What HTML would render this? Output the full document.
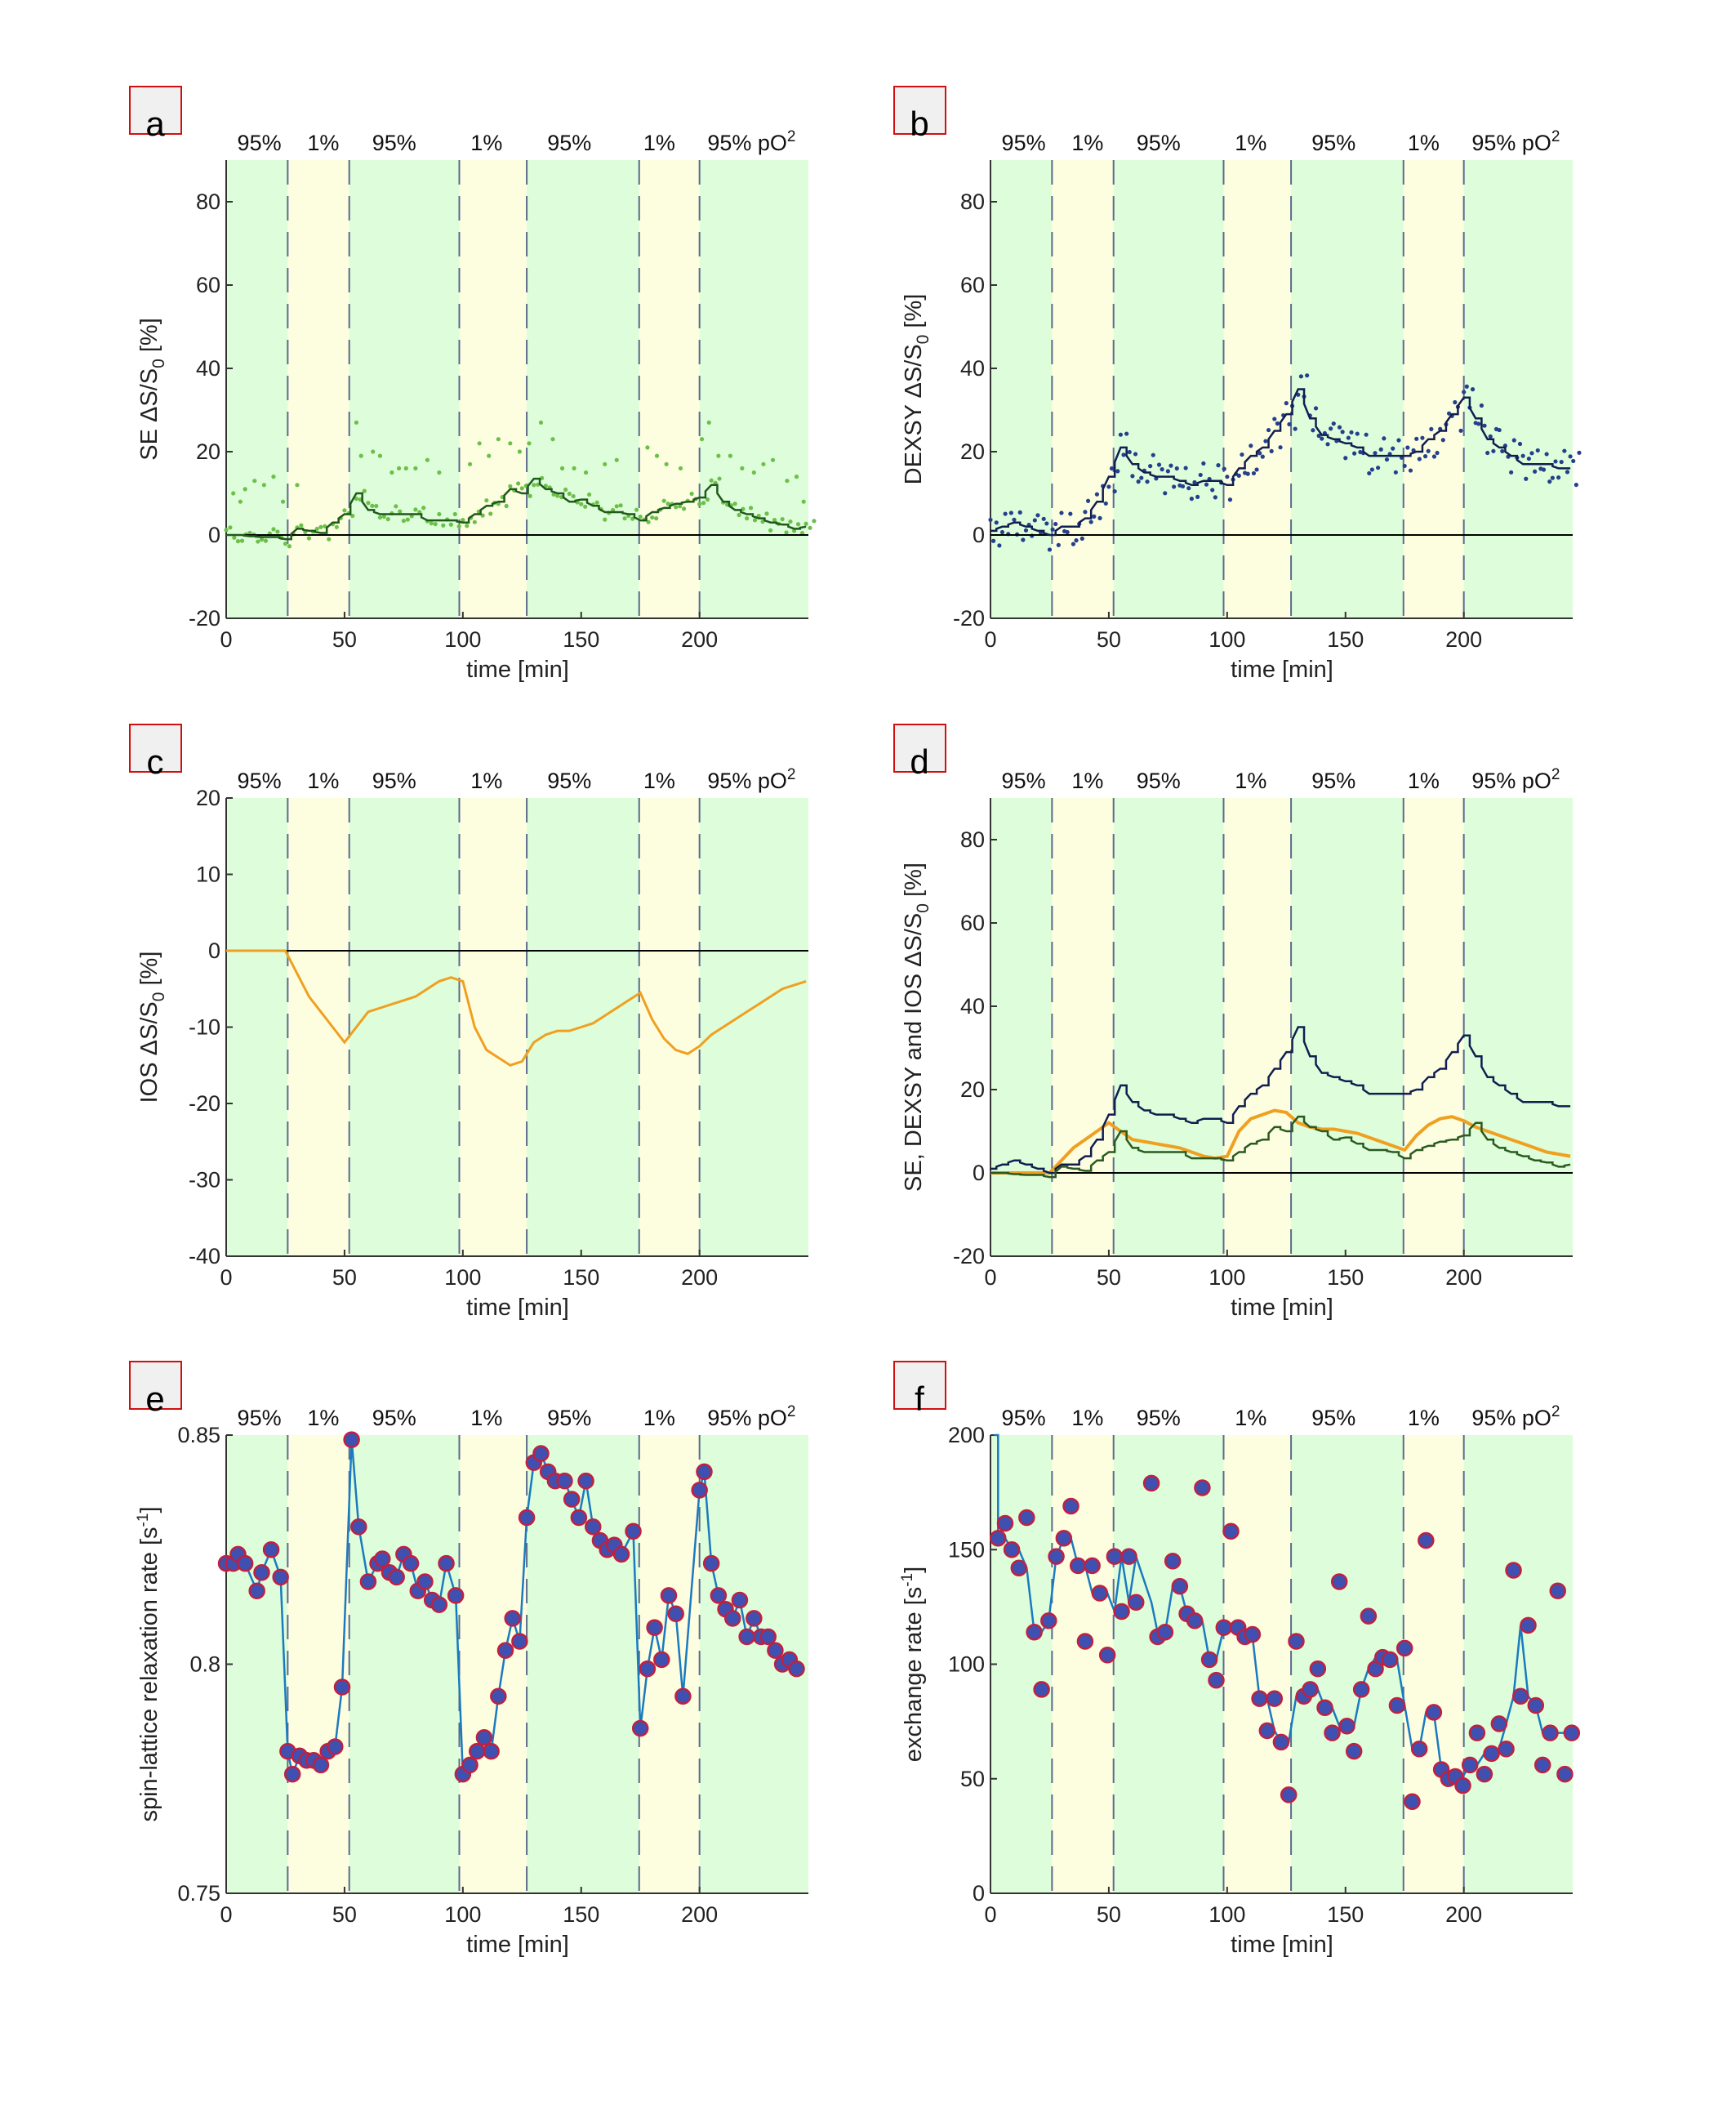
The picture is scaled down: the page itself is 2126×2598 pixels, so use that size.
<!DOCTYPE html>
<html><head><meta charset="utf-8"><style>
html,body{margin:0;padding:0;background:#fff}
svg{display:block;font-family:"Liberation Sans",Arial,sans-serif}
</style></head><body>
<svg id="fig" width="2126" height="2598" viewBox="0 0 2126 2598" xmlns="http://www.w3.org/2000/svg"></svg>
<script>
// ---- data ----
const phaseBounds = [26, 52, 98.5, 127, 174.5, 200];
const phaseLabels = ["95%", "1%", "95%", "1%", "95%", "1%", "95% pO"];
const phaseLabelT = [14, 41, 71, 110, 145, 183, 222];
const lineT = [0,5,10,15,20,25,30,35,40,45,50,55,60,65,70,75,80,85,90,95,100,105,110,115,120,125,130,135,140,145,150,155,160,165,170,175,180,185,190,195,200,205,210,215,220,225,230,235,240,245];
const seLine = [0,0,-0.3,-0.5,-0.5,-1,1.5,1,0.5,3,5,10,6,5,5,5,5,3.5,3.5,3.5,3,5,7,8,11,10,13.5,11,10,8,8.5,7,5.5,5.5,5,3.5,5.5,6.5,7.5,8,9,12,8,6,5,4,3,2.5,1.5,2];
const dexsyLine = [1,2,3,2,1,0,2,2,4,8,14,21,17,15,14,14,13,12,13,13,12,16,19,21,25,29,35,28,24,23,22,21,19,19,19,19,20,23,25,29,33,28,23,21,19,17,17,17,16,16];
const iosLine = [0,0,0,0,0,0,-3,-6,-8,-10,-12,-10,-8,-7.5,-7,-6.5,-6,-5,-4,-3.5,-4,-10,-13,-14,-15,-14.5,-12,-11,-10.5,-10.5,-10,-9.5,-8.5,-7.5,-6.5,-5.5,-9,-11.5,-13,-13.5,-12.5,-11,-10,-9,-8,-7,-6,-5,-4.5,-4];
const jitter = [1.2,-1.5,0.8,-0.6,1.9,-1.1,0.3,-1.8,1.4,-0.4,0.9,-1.3,1.7,-0.8,0.2,-1.6,1.1,-0.2,1.5,-1.0,0.6,-1.9,1.3,-0.5,0.7];
const seOutT = [3,6,8,12,16,20,24,30,55,57,62,65,70,73,76,80,85,90,103,107,111,115,120,124,128,133,138,142,147,152,160,165,178,182,186,192,201,204,208,213,218,223,227,231,237,241,244];
const seOutV = [10,8,11,13,12,14,8,12,27,19,20,19,15,16,16,16,18,15,17,22,19,23,22,20,22,27,23,16,16,15,17,18,21,19,17,16,23,27,19,19,16,15,17,18,13,14,8];
const eT = [0,3,5,8,13,15,19,23,26,28,31,34,37,40,43,46,49,53,56,60,64,66,69,72,75,78,81,84,87,90,93,97,100,103,106,109,112,115,118,121,124,127,130,133,136,139,143,146,149,152,155,158,161,164,167,172,175,178,181,184,187,190,193,200,202,205,208,211,214,217,220,223,226,229,232,235,238,241];
const eV = [0.822,0.822,0.824,0.822,0.816,0.820,0.825,0.819,0.781,0.776,0.780,0.779,0.779,0.778,0.781,0.782,0.795,0.849,0.830,0.818,0.822,0.823,0.820,0.819,0.824,0.822,0.816,0.818,0.814,0.813,0.822,0.815,0.776,0.778,0.781,0.784,0.781,0.793,0.803,0.810,0.805,0.832,0.844,0.846,0.842,0.840,0.840,0.836,0.832,0.840,0.830,0.827,0.825,0.826,0.824,0.829,0.786,0.799,0.808,0.801,0.815,0.811,0.793,0.838,0.842,0.822,0.815,0.812,0.810,0.814,0.806,0.810,0.806,0.806,0.803,0.800,0.801,0.799];
const fT = [3.2,6.2,9,12,15.3,18.5,21.6,24.6,27.8,31,34,37,40,43,46.2,49.4,52.4,55.4,58.5,61.5,68,70.6,73.8,77,80,83,86.3,89.5,92.5,95.4,98.6,101.6,104.6,107.5,110.7,113.7,116.9,120,122.8,126,129.2,132.4,135.1,138.3,141.3,144.4,147.4,150.6,153.6,156.7,159.7,162.7,165.7,168.8,171.8,175,178.2,181.2,184,187.3,190.5,193.5,196.4,199.6,202.6,205.6,208.7,211.7,214.9,217.9,221,224,227.2,230.4,233.3,236.5,239.7,242.7,245.6];
const fV = [155,161.5,150,142,164,114,89,119,147,155,169,143,110,143,131,104,147,123,147,127,179,112,114,145,134,122,119,177,102,93,116,158,116,112,113,85,71,85,66,43,110,86,89,98,81,70,136,73,62,89,121,98,103,102,82,107,40,63,154,79,54,50,51,47,56,70,52,61,74,63,141,86,117,82,56,70,132,52,70];
const xTicks = [0,50,100,150,200];

// ---- layout ----
const NS = "http://www.w3.org/2000/svg";
const svg = document.getElementById("fig");
function mk(tag, attrs, parent, text) {
  const el = document.createElementNS(NS, tag);
  for (const k in attrs) el.setAttribute(k, attrs[k]);
  if (text !== undefined) el.textContent = text;
  (parent || svg).appendChild(el);
  return el;
}
const XMAX = 246;
const cols = [277, 1213], rows = [196, 977, 1757];
const PW = 713, PH = 561;

function panel(letter, col, row, ymin, ymax, yticks, ylabelParts, fmt) {
  const x0 = cols[col], y0 = rows[row];
  const g = mk("g", {});
  
  
  const sx = t => x0 + t / XMAX * PW;
  const sy = v => y0 + PH - (v - ymin) / (ymax - ymin) * PH;
  const edges = [0].concat(phaseBounds, [XMAX]);
  for (let i = 0; i < edges.length - 1; i++) {
    const r = mk("rect", {x: sx(edges[i]), y: y0, width: sx(edges[i+1]) - sx(edges[i]), height: PH, fill: i % 2 ? "#fdfde0" : "#defdda"}, g);
    
    
  }
  phaseBounds.forEach(b => {
    const l = mk("line", {x1: sx(b), x2: sx(b), y1: y0, y2: y0 + PH, stroke: "#5b6b8c", "stroke-width": 2, "stroke-dasharray": "30,14"}, g);
    
    
  });
  phaseLabels.forEach((s, i) => {
    const t = mk("text", {x: sx(phaseLabelT[i]), y: y0 - 12, "font-size": 27, "text-anchor": "middle", fill: "#111"}, g, s);
    if (i === phaseLabels.length - 1) mk("tspan", {dy: -11, "font-size": 19}, t, "2");
    
    
  });
  mk("line", {x1: x0, x2: x0, y1: y0, y2: y0 + PH, stroke: "#333", "stroke-width": 2}, g);
  mk("line", {x1: x0, x2: x0 + PW, y1: y0 + PH, y2: y0 + PH, stroke: "#333", "stroke-width": 2}, g);
  xTicks.forEach(t => {
    mk("line", {x1: sx(t), x2: sx(t), y1: y0 + PH, y2: y0 + PH - 8, stroke: "#333", "stroke-width": 2}, g);
    const tx = mk("text", {x: sx(t), y: y0 + PH + 35, "font-size": 27, "text-anchor": "middle", fill: "#222"}, g, String(t));
    
    
  });
  yticks.forEach(v => {
    mk("line", {x1: x0, x2: x0 + 8, y1: sy(v), y2: sy(v), stroke: "#333", "stroke-width": 2}, g);
    const ty = mk("text", {x: x0 - 7, y: sy(v) + 9, "font-size": 27, "text-anchor": "end", fill: "#222"}, g, fmt ? fmt(v) : String(v));
    
    
  });
  const xl = mk("text", {x: x0 + 357, y: y0 + PH + 72, "font-size": 29, "text-anchor": "middle", fill: "#222"}, g, "time [min]");
  
  
  const yl = mk("text", {x: 0, y: 0, "font-size": 29, "text-anchor": "middle", fill: "#222", transform: `translate(${x0 - 85},${y0 + PH / 2}) rotate(-90)`}, g);
  ylabelParts.forEach(p => mk("tspan", p.sub ? {dy: 9, "font-size": 21} : (p.up ? {dy: -11, "font-size": 19} : (p.reset ? {dy: p.reset} : {})), yl, p.t));
  
  
  const lb = mk("rect", {x: x0 - 118, y: y0 - 90, width: 63, height: 58, fill: "#f0f0f0", stroke: "#d01010", "stroke-width": 2}, g);
  
  
  const lt = mk("text", {x: x0 - 87, y: y0 - 30, "font-size": 42, "text-anchor": "middle", fill: "#000"}, g, letter);
  
  
  return {g, sx, sy, x0, y0};
}
function zeroLine(p) {
  const l = mk("line", {x1: p.sx(0), x2: p.sx(XMAX), y1: p.sy(0), y2: p.sy(0), stroke: "#000", "stroke-width": 2}, p.g);
  
  
}
function stepPath(p, T, V, color, w, name) {
  let d = "";
  T.forEach((t, i) => {
    d += (i ? "L" : "M") + p.sx(t) + "," + p.sy(V[i]);
    if (i < T.length - 1) d += "L" + p.sx((t + T[i+1]) / 2) + "," + p.sy(V[i]) + "L" + p.sx((t + T[i+1]) / 2) + "," + p.sy((V[i] + V[i+1]) / 2);
  });
  const path = mk("path", {d, fill: "none", stroke: color, "stroke-width": w}, p.g);
  
  
}
function poly(p, T, V, color, w, name) {
  const path = mk("polyline", {points: T.map((t, i) => p.sx(t) + "," + p.sy(V[i])).join(" "), fill: "none", stroke: color, "stroke-width": w}, p.g);
  
  
}
function dot(p, t, v, r, color, name, stroke) {
  const c = mk("circle", {cx: p.sx(t), cy: p.sy(v), r, fill: color}, p.g);
  if (stroke) { c.setAttribute("stroke", stroke); c.setAttribute("stroke-width", 2.5); }
  
  
}
const dS = [{t: "\u0394S/S"}, {t: "0", sub: true}, {t: " [%]", reset: -9}];

// a
const pa = panel("a", 0, 0, -20, 90, [-20,0,20,40,60,80], [{t: "SE "}].concat(dS));
lineT.forEach((t, i) => {
  dot(pa, t, seLine[i] + jitter[i % jitter.length], 2.6, "#6cc04a", "se-dot");
  dot(pa, t + 1.7, seLine[i] - jitter[(i + 7) % jitter.length], 2.6, "#6cc04a", "se-dot");
  dot(pa, t + 3.4, seLine[i] + jitter[(i + 13) % jitter.length] * 0.8, 2.6, "#6cc04a", "se-dot");
});
seOutT.forEach((t, i) => dot(pa, t, seOutV[i], 2.6, "#6cc04a", "se-outlier-dot"));
zeroLine(pa);
stepPath(pa, lineT, seLine, "#1e5a1a", 2.5, "se-line");

// b
const pb = panel("b", 1, 0, -20, 90, [-20,0,20,40,60,80], [{t: "DEXSY "}].concat(dS));
lineT.forEach((t, i) => {
  for (let k = 0; k < 4; k++) dot(pb, t + k * 1.25, dexsyLine[i] + jitter[(i * 3 + k * 5) % jitter.length] * 2.2, 2.6, "#24408c", "dexsy-dot");
});
zeroLine(pb);
stepPath(pb, lineT, dexsyLine, "#101e50", 2.5, "dexsy-line");

// c
const pc = panel("c", 0, 1, -40, 20, [-40,-30,-20,-10,0,10,20], [{t: "IOS "}].concat(dS));
zeroLine(pc);
poly(pc, lineT, iosLine, "#f0a020", 3, "ios-line");

// d
const pd = panel("d", 1, 1, -20, 90, [-20,0,20,40,60,80], [{t: "SE, DEXSY and IOS "}].concat(dS));
zeroLine(pd);
poly(pd, lineT, iosLine.map(v => -v), "#f0a020", 4, "ios-inverted-line");
stepPath(pd, lineT, dexsyLine, "#101e50", 2.5, "dexsy-line");
stepPath(pd, lineT, seLine, "#2a5a20", 2.5, "se-line");

// e
const pe = panel("e", 0, 2, 0.75, 0.85, [0.75,0.8,0.85], [{t: "spin-lattice relaxation rate [s"}, {t: "-1", up: true}, {t: "]", reset: 11}], v => v === 0.8 ? "0.8" : v.toFixed(2));
poly(pe, eT, eV, "#1a7ac0", 2.5, "relaxation-line");
eT.forEach((t, i) => dot(pe, t, eV[i], 9, "#4050b0", "relaxation-point", "#c02040"));

// f
const pf = panel("f", 1, 2, 0, 200, [0,50,100,150,200], [{t: "exchange rate [s"}, {t: "-1", up: true}, {t: "]", reset: 11}]);
const fLineV = fV.map((v, i) => { const a = [fV[Math.max(0, i-1)], v, fV[Math.min(fV.length-1, i+1)]].sort((x, y) => x - y); return a[1]; });
poly(pf, [1.5, 3.2].concat(fT), [200, 200].concat(fLineV), "#1a7ac0", 2.5, "exchange-line");
fT.forEach((t, i) => dot(pf, t, fV[i], 9, "#4050b0", "exchange-point", "#c02040"));
</script>
</body></html>
